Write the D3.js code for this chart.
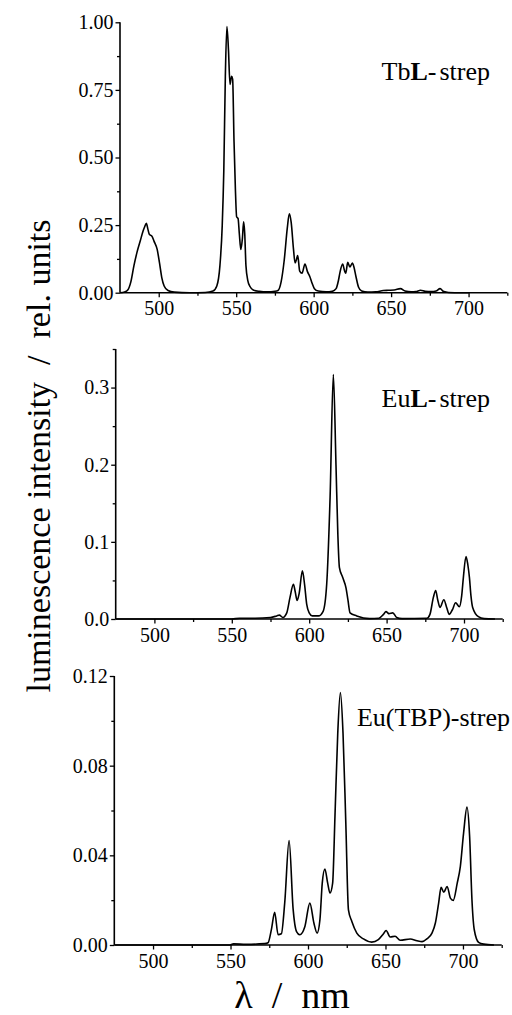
<!DOCTYPE html>
<html>
<head>
<meta charset="utf-8">
<script src="https://cdn.jsdelivr.net/npm/d3@7/dist/d3.min.js"></script>
<style>
  html, body { margin: 0; padding: 0; background: #fff; }
  svg { display: block; }
  svg text { font-family: "Liberation Serif", "Times New Roman", serif; fill: #000; }
</style>
</head>
<body>
<svg id="chart" width="512" height="1015"></svg>
<script>
// Emission spectra: wavelength (nm) and relative luminescence intensity

const tbWavelength = [475, 478, 480, 482, 484, 486, 488, 490, 491, 492, 493, 494, 495.5, 497, 499, 500.5, 502, 503.5, 506, 510, 520, 530, 535, 537.5, 539.5, 541, 542, 543, 544, 545, 546, 547, 547.7, 548.6, 549.5, 550.3, 551.2, 552, 553, 554, 554.8, 555.5, 556.3, 557.5, 559, 561, 565, 570, 575, 577, 579, 581, 583, 584.3, 585.5, 587, 588, 589, 589.7, 591, 592.5, 594.4, 596, 597.5, 599, 600.5, 603, 608, 612, 614.5, 616, 617, 618.7, 620, 620.7, 622, 623.4, 625, 626, 627.3, 629, 631, 635, 640, 645, 648, 652, 656, 659, 663, 666, 669, 672, 676, 679, 681.6, 684, 687, 695, 700];
const tbIntensity = [0, 0.003, 0.01, 0.04, 0.10, 0.15, 0.19, 0.23, 0.245, 0.257, 0.235, 0.215, 0.21, 0.19, 0.16, 0.11, 0.055, 0.025, 0.008, 0.002, 0, 0.001, 0.006, 0.025, 0.10, 0.25, 0.45, 0.80, 0.984, 0.90, 0.77, 0.80, 0.79, 0.56, 0.38, 0.28, 0.275, 0.22, 0.16, 0.20, 0.262, 0.22, 0.10, 0.045, 0.022, 0.01, 0.005, 0.003, 0.005, 0.008, 0.04, 0.12, 0.24, 0.292, 0.26, 0.16, 0.11, 0.125, 0.137, 0.08, 0.072, 0.106, 0.078, 0.06, 0.035, 0.015, 0.006, 0.003, 0.005, 0.015, 0.045, 0.075, 0.106, 0.08, 0.072, 0.112, 0.095, 0.11, 0.095, 0.06, 0.02, 0.006, 0.002, 0.003, 0.008, 0.009, 0.01, 0.015, 0.006, 0.003, 0.004, 0.009, 0.005, 0.004, 0.006, 0.015, 0.004, 0.001, 0, 0];

const euWavelength = [475, 550, 555, 565, 575, 579, 580.7, 583, 585.5, 587.6, 589.8, 591, 592.2, 593.5, 595.6, 597, 598.4, 600, 602, 606, 609, 611.3, 613.5, 615.6, 617.3, 618.5, 619.5, 621.6, 623.8, 625, 626.4, 630.7, 639, 645, 648, 649.6, 651.5, 654, 656.5, 660, 676, 678, 680.2, 681.7, 683, 684.5, 687, 688.8, 690.5, 692.5, 694.6, 697, 698.5, 699.6, 701.3, 702.5, 703.5, 704.5, 705.6, 709.3, 713, 720];
const euIntensity = [0, 0, 0.001, 0.001, 0.002, 0.004, 0.005, 0.002, 0.008, 0.028, 0.045, 0.035, 0.024, 0.033, 0.0625, 0.045, 0.019, 0.008, 0.004, 0.004, 0.01, 0.045, 0.158, 0.317, 0.2, 0.11, 0.067, 0.054, 0.04, 0.025, 0.008, 0.004, 0.0005, 0.001, 0.006, 0.0095, 0.007, 0.008, 0.002, 0.0005, 0.001, 0.006, 0.028, 0.037, 0.025, 0.015, 0.025, 0.015, 0.006, 0.012, 0.021, 0.016, 0.03, 0.054, 0.081, 0.07, 0.054, 0.03, 0.015, 0.003, 0.0005, 0];

const tbpWavelength = [475, 549, 552, 560, 572, 574.2, 576.4, 578.5, 580.7, 582.8, 585, 587.8, 590.4, 592.6, 594.7, 598, 601.2, 603.8, 605.9, 607.7, 609.2, 610.9, 612.7, 614.2, 615.9, 617.4, 619.2, 620.9, 622.6, 624.4, 626.1, 628.3, 631.5, 635.8, 641.1, 645.4, 648.7, 650.4, 653, 656.2, 659.5, 666, 670.3, 673.6, 676.7, 680, 682.2, 684.3, 685.9, 687.6, 689.8, 691.9, 693.7, 696.3, 698.3, 700.4, 702.6, 704.3, 705.8, 707.3, 710.1, 713.4, 720];
const tbpIntensity = [0, 0, 0.0005, 0.0003, 0.0006, 0.001, 0.007, 0.0146, 0.0046, 0.005, 0.019, 0.0466, 0.016, 0.006, 0.0046, 0.0083, 0.0187, 0.0098, 0.0053, 0.0113, 0.0276, 0.0339, 0.0276, 0.0232, 0.0276, 0.0573, 0.0945, 0.1126, 0.0945, 0.0544, 0.0157, 0.0105, 0.0053, 0.0027, 0.0013, 0.0024, 0.005, 0.0065, 0.0036, 0.0039, 0.0021, 0.0027, 0.0019, 0.0015, 0.0027, 0.0053, 0.0098, 0.0187, 0.0257, 0.0235, 0.0261, 0.0209, 0.0199, 0.0276, 0.035, 0.0499, 0.0615, 0.0484, 0.0202, 0.0068, 0.0012, 0.0004, 0];

// Axis ticks
const xMajorTicks = [500, 550, 600, 650, 700];
const xMinorTicks = [525, 575, 625, 675, 725];
const tbMajorTicks = [0, 0.25, 0.5, 0.75, 1.0];
const tbMinorTicks = [0.125, 0.375, 0.625, 0.875];
const euMajorTicks = [0, 0.1, 0.2, 0.3];
const euMinorTicks = [0.05, 0.15, 0.25, 0.35];
const tbpMajorTicks = [0, 0.04, 0.08, 0.12];
const tbpMinorTicks = [0.02, 0.06, 0.10];

const serif = '"Liberation Serif", "Times New Roman", serif';
const svg = d3.select("#chart");

const panels = [
  { wl: tbWavelength, val: tbIntensity, xr: [120, 507.3], yr: [292.7, 22.3], ymax: 1.0,
    major: tbMajorTicks, minor: tbMinorTicks, fmt: ".2f",
    label: [["Tb", "normal"], ["L", "bold"], ["-", "normal"], ["strep", "normal"]], lx: 490, ly: 80 },
  { wl: euWavelength, val: euIntensity, xr: [115.7, 502.7], yr: [619, 349], ymax: 0.35,
    major: euMajorTicks, minor: euMinorTicks, fmt: ".1f",
    label: [["Eu", "normal"], ["L", "bold"], ["-", "normal"], ["strep", "normal"]], lx: 490, ly: 407 },
  { wl: tbpWavelength, val: tbpIntensity, xr: [114.3, 501.7], yr: [945, 676], ymax: 0.12,
    major: tbpMajorTicks, minor: tbpMinorTicks, fmt: ".2f",
    label: [["Eu(TBP)-strep", "normal"]], lx: 510, ly: 726 }
];

panels.forEach(p => {
  const x = d3.scaleLinear().domain([475, 725]).range(p.xr);
  const y = d3.scaleLinear().domain([0, p.ymax]).range(p.yr);
  const g = svg.append("g");

  // x axis: labelled major ticks plus unlabelled minor ticks
  const xa = g.append("g").attr("transform", `translate(0,${p.yr[0]})`)
    .call(d3.axisBottom(x).tickValues(xMajorTicks).tickSize(4.5).tickPadding(4).tickFormat(d3.format("d")));
  g.append("g").attr("transform", `translate(0,${p.yr[0]})`)
    .call(d3.axisBottom(x).tickValues(xMinorTicks).tickSize(3).tickFormat(""))
    .select(".domain").remove();

  // y axis
  const ya = g.append("g").attr("transform", `translate(${p.xr[0]},0)`)
    .call(d3.axisLeft(y).tickValues(p.major).tickSize(4.5).tickPadding(2).tickFormat(d3.format(p.fmt)));
  g.append("g").attr("transform", `translate(${p.xr[0]},0)`)
    .call(d3.axisLeft(y).tickValues(p.minor).tickSize(3).tickFormat(""))
    .select(".domain").remove();

  g.selectAll("g").attr("font-family", serif);
  g.selectAll(".domain").attr("stroke", "#000").attr("stroke-width", 1.6);
  g.selectAll(".tick line").attr("stroke", "#000").attr("stroke-width", 1.3);
  g.selectAll(".tick text").style("font-family", serif).style("font-size", "20px").attr("fill", "#000");
  ya.selectAll(".domain").attr("d", `M0,${p.yr[0]}V${p.yr[1]}`);
  xa.selectAll(".domain").attr("d", `M${p.xr[0]},0H${p.xr[1]}`);

  // spectrum
  const pts = p.wl.map((w, i) => [w, p.val[i]]);
  g.append("path")
    .datum(pts)
    .attr("fill", "none")
    .attr("stroke", "#000")
    .attr("stroke-width", 1.6)
    .attr("stroke-linejoin", "round")
    .attr("d", d3.line().x(d => x(d[0])).y(d => y(d[1])).curve(d3.curveMonotoneX));

  // sample label
  const t = g.append("text").attr("x", p.lx).attr("y", p.ly)
    .attr("text-anchor", "end").style("font-size", "26px").style("font-family", serif);
  p.label.forEach(([s, w]) => {
    const ts = t.append("tspan").attr("font-weight", w).text(s);
    if (s === "strep") ts.attr("dx", 3);
  });
});

// axis titles
svg.append("text")
  .attr("transform", "translate(50,456) rotate(-90)")
  .attr("text-anchor", "middle")
  .style("font-size", "34px")
  .style("font-family", serif)
  .attr("xml:space", "preserve")
  .text("luminescence intensity  /  rel. units");

svg.append("text")
  .attr("x", 292).attr("y", 1008)
  .attr("text-anchor", "middle")
  .style("font-size", "38px")
  .style("font-family", serif)
  .attr("xml:space", "preserve")
  .text("λ  /  nm");
</script>
</body>
</html>
